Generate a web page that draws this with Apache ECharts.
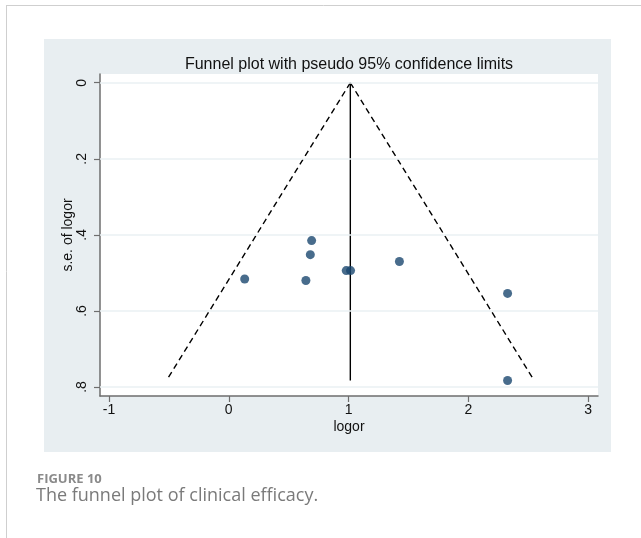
<!DOCTYPE html>
<html><head><meta charset="utf-8">
<script src="https://cdn.jsdelivr.net/npm/echarts@6/dist/echarts.min.js"></script>
<style>html,body{margin:0;padding:0;background:#fff}#c{width:641px;height:538px}</style>
</head><body><div id="c"></div>
<script>
// Study estimates
const logor = [0.133, 0.692, 0.681, 0.644, 0.981, 1.017, 1.425, 2.328, 2.328];
const seLogor = [0.516, 0.415, 0.452, 0.520, 0.494, 0.494, 0.470, 0.554, 0.783];
// Pooled estimate line and pseudo 95% limits (endpoints)
const pooledLine = [[1.015, 0], [1.015, 0.783]];
const lowerLimit = [[1.015, 0], [-0.52, 0.783]];
const upperLimit = [[1.015, 0], [2.55, 0.783]];
// Tick labels
const xTicks = [-1, 0, 1, 2, 3];
const yTicks = [0, 0.2, 0.4, 0.6, 0.8];
const yTickLabels = ['0', '.2', '.4', '.6', '.8'];

const chart = echarts.init(document.getElementById('c'), null, {renderer: 'canvas'});
const axisColor = '#6e6e6e';
const font = '"Liberation Sans", Arial, sans-serif';
chart.setOption({
  animation: false,
  graphic: [
    {type: 'line', shape: {x1: 6, y1: 5.5, x2: 641, y2: 5.5}, style: {stroke: '#cfcfcf', lineWidth: 1}, z: -10},
    {type: 'line', shape: {x1: 6.5, y1: 5, x2: 6.5, y2: 538}, style: {stroke: '#cfcfcf', lineWidth: 1}, z: -10},
    {type: 'rect', shape: {x: 44, y: 39, width: 567, height: 413}, style: {fill: '#e8eef1'}, z: -10},
    {type: 'text', left: 37, top: 473, style: {text: 'FIGURE 10', font: 'bold 13px "Open Sans", sans-serif', fill: '#8a8a8a'}},
    {type: 'text', left: 36, top: 487, style: {text: 'The funnel plot of clinical efficacy.', font: '18px "Open Sans", sans-serif', fill: '#7a7a7a'}}
  ],
  title: {
    text: 'Funnel plot with pseudo 95% confidence limits',
    left: 344, top: 52, textAlign: 'center',
    textStyle: {fontFamily: font, fontSize: 16, fontWeight: 'normal', color: '#111'}
  },
  grid: {left: 100, right: 43, top: 74, bottom: 142, show: true, backgroundColor: '#ffffff', borderWidth: 0},
  xAxis: {
    type: 'value', min: -1.075, max: 3.083,
    name: 'logor', nameLocation: 'middle', nameGap: 24, nameMoveOverlap: false,
    nameTextStyle: {fontFamily: font, fontSize: 14, color: '#111'},
    axisLine: {onZero: false, lineStyle: {color: axisColor, width: 1.5}},
    axisTick: {show: true, customValues: xTicks, length: 6, lineStyle: {color: axisColor, width: 1.2}},
    axisLabel: {customValues: xTicks, margin: 7, fontFamily: font, fontSize: 14, color: '#111',
      formatter: v => String(v)},
    splitLine: {show: false}
  },
  yAxis: {
    type: 'value', inverse: true, min: -0.023, max: 0.8237,
    name: 's.e. of logor', nameLocation: 'middle', nameGap: 25, nameRotate: 90, nameMoveOverlap: false,
    nameTextStyle: {fontFamily: font, fontSize: 14, color: '#111'},
    axisLine: {show: true, onZero: false, lineStyle: {color: axisColor, width: 1.5}},
    axisTick: {show: true, customValues: yTicks, length: 6, lineStyle: {color: axisColor, width: 1.2}},
    axisLabel: {customValues: yTicks, rotate: 90, margin: 11, fontFamily: font, fontSize: 14, color: '#111',
      formatter: v => yTickLabels[yTicks.findIndex(t => Math.abs(t - v) < 1e-6)] ?? ''},
    splitLine: {show: false}
  },
  series: [
    {
      type: 'line', data: [[-1.075, 0], [3.083, 0]], silent: true, symbol: 'none', lineStyle: {width: 0},
      markLine: {
        silent: true, symbol: 'none', label: {show: false},
        lineStyle: {type: 'solid', color: '#eaf1f3', width: 1.5},
        data: yTicks.map(t => ({yAxis: t}))
      },
      z: 1
    },
    {type: 'line', data: pooledLine, symbol: 'none', lineStyle: {color: '#000', width: 1.4}, z: 3},
    {type: 'line', data: lowerLimit, symbol: 'none', lineStyle: {color: '#000', width: 1.4, type: [6, 4]}, z: 3},
    {type: 'line', data: upperLimit, symbol: 'none', lineStyle: {color: '#000', width: 1.4, type: [6, 4]}, z: 3},
    {type: 'scatter', data: logor.map((x, i) => [x, seLogor[i]]), symbolSize: 9,
      itemStyle: {color: '#1a476f'}, z: 4}
  ]
});
</script></body></html>
